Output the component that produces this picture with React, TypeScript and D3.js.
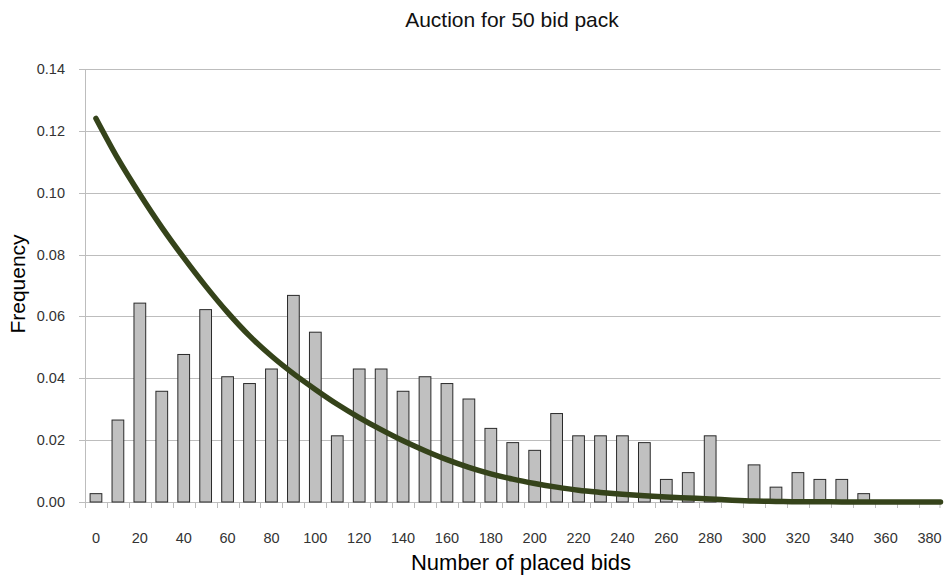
import React from "react";
import * as d3 from "d3";

const categories: number[] = [
  0, 10, 20, 30, 40, 50, 60, 70, 80, 90, 100, 110, 120, 130, 140, 150, 160, 170, 180, 190,
  200, 210, 220, 230, 240, 250, 260, 270, 280, 290, 300, 310, 320, 330, 340, 350, 360, 370, 380,
];

const frequency: number[] = [
  0.0027, 0.0265, 0.0643, 0.0358, 0.0477, 0.0622, 0.0405, 0.0383, 0.043, 0.0668,
  0.0549, 0.0214, 0.043, 0.043, 0.0358, 0.0405, 0.0383, 0.0333, 0.0238, 0.0192,
  0.0167, 0.0286, 0.0214, 0.0214, 0.0214, 0.0192, 0.0073, 0.0095, 0.0214, 0,
  0.012, 0.0048, 0.0095, 0.0073, 0.0073, 0.0027, 0, 0, 0,
];

const fitted: number[] = [
  0.124, 0.111, 0.0995, 0.0888, 0.079, 0.0698, 0.0613, 0.0537, 0.0472, 0.0415,
  0.0364, 0.0316, 0.0273, 0.0234, 0.0198, 0.0166, 0.0137, 0.0112, 0.0091, 0.0074,
  0.006, 0.0048, 0.0038, 0.0031, 0.0025, 0.002, 0.0016, 0.0013, 0.001, 0.0006,
  0.0003, 0.0002, 0.0001, 0.0001, 0, 0, 0, 0, 0,
];

const yTicks: number[] = [0, 0.02, 0.04, 0.06, 0.08, 0.1, 0.12, 0.14];
const xTickLabels: number[] = [0, 20, 40, 60, 80, 100, 120, 140, 160, 180, 200, 220, 240, 260, 280, 300, 320, 340, 360, 380];

const title = "Auction for 50 bid pack";
const xTitle = "Number of placed bids";
const yTitle = "Frequency";

const W = 947;
const H = 576;
const left = 85;
const right = 940.5;
const top = 69;
const bottom = 502;

export default function App() {
  const x = d3
    .scaleBand<number>()
    .domain(categories)
    .range([left, right])
    .paddingInner(0)
    .paddingOuter(0);
  const y = d3.scaleLinear().domain([0, 0.14]).range([bottom, top]);
  const bw = x.bandwidth();
  const barW = bw * 0.535;
  const cx = (c: number) => (x(c) as number) + bw / 2;

  const pts: [number, number][] = categories.map((c, i) => [cx(c), y(fitted[i])]);
  pts.push([right, y(fitted[fitted.length - 1])]);
  const line = d3.line<[number, number]>().x((d) => d[0]).y((d) => d[1]).curve(d3.curveMonotoneX);

  const font = "'Liberation Sans', Arial, sans-serif";
  const gridColor = "#bdbdbd";

  return (
    <svg
      width={W}
      height={H}
      style={{ position: "absolute", left: 0, top: 0, background: "#fff" }}
      fontFamily={font}
    >
      <rect x={0} y={0} width={W} height={H} fill="#fff" />
      {yTicks.map((t) => (
        <g key={t}>
          <line x1={left - 6} x2={right} y1={Math.round(y(t)) + 0.5} y2={Math.round(y(t)) + 0.5} stroke={gridColor} strokeWidth={1} />
          <text x={65} y={y(t) + 5} textAnchor="end" fontSize={14.5} fill="#333">
            {t.toFixed(2)}
          </text>
        </g>
      ))}
      <line x1={left + 0.5} x2={left + 0.5} y1={top} y2={bottom} stroke={gridColor} strokeWidth={1} />
      {categories.map((c) => (
        <line
          key={"t" + c}
          x1={Math.round(x(c) as number) + 0.5}
          x2={Math.round(x(c) as number) + 0.5}
          y1={bottom}
          y2={bottom + 6}
          stroke={gridColor}
          strokeWidth={1}
        />
      ))}
      <line x1={right - 0.5} x2={right - 0.5} y1={bottom} y2={bottom + 6} stroke={gridColor} strokeWidth={1} />
      {categories.map((c, i) =>
        frequency[i] > 0 ? (
          <rect
            key={"b" + c}
            x={cx(c) - barW / 2}
            y={y(frequency[i])}
            width={barW}
            height={bottom - y(frequency[i])}
            fill="#c0c0c0"
            stroke="#2a2a2a"
            strokeWidth={1}
          />
        ) : null
      )}
      <path d={line(pts) || ""} fill="none" stroke="#35431a" strokeWidth={5.5} strokeLinecap="round" strokeLinejoin="round" />
      {xTickLabels.map((c) => (
        <text key={"l" + c} x={cx(c)} y={543} textAnchor="middle" fontSize={14.5} fill="#333">
          {c}
        </text>
      ))}
      <text x={512} y={27} textAnchor="middle" fontSize={21} fill="#111">
        {title}
      </text>
      <text x={521} y={570} textAnchor="middle" fontSize={22} fill="#000">
        {xTitle}
      </text>
      <text transform={`translate(25,284) rotate(-90)`} textAnchor="middle" fontSize={21} fill="#000">
        {yTitle}
      </text>
    </svg>
  );
}
